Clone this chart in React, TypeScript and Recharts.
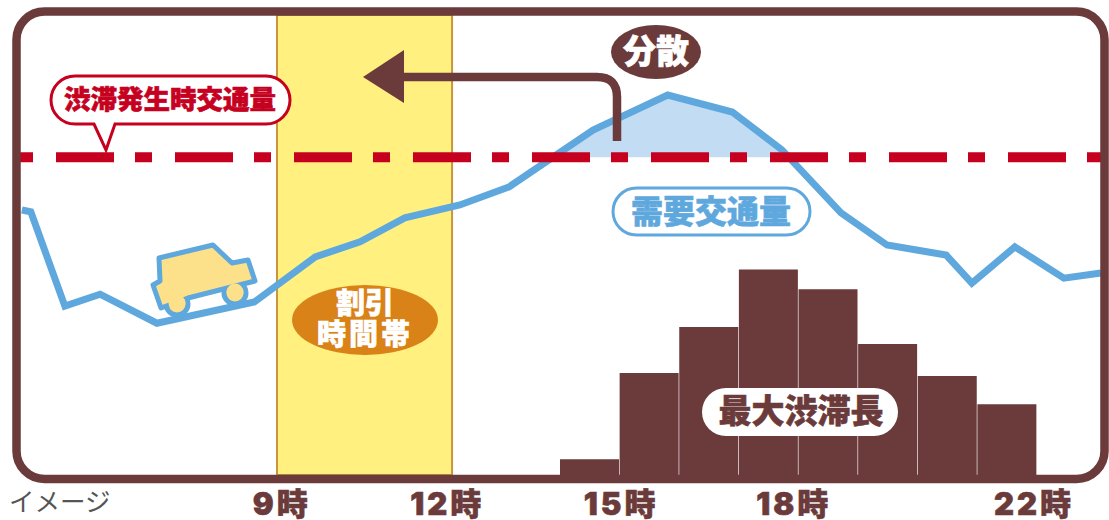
import React from "react";
import { Area, Bar, ComposedChart, Line, ReferenceArea, ReferenceLine, XAxis, YAxis } from "recharts";

// x values are hours of the day, y values are relative units (the original has no y scale)
const demandHours = [5.01, 5.16, 5.73, 6.32, 7.27, 8.9, 9.92, 10.67, 11.42, 12.34, 13.16, 14.57, 15.82, 16.9, 17.73, 18.72, 19.49, 20.48, 20.91, 21.63, 22.45, 23.07];
const demandValues = [57.6, 57.2, 36.7, 39.3, 33, 37.6, 47.4, 50.7, 55.9, 58.7, 62.6, 75, 82.6, 78.9, 70.7, 57, 50, 47.8, 41.7, 49.6, 42.8, 43.9];

const congestionLimit = 69.1;
const spillHours = [13.9, 14.57, 15.82, 16.9, 17.73, 17.85];
const spillValues = [69.1, 75, 82.6, 78.9, 70.7, 69.1];

const jamHours = [14.5, 15.5, 16.5, 17.5, 18.5, 19.5, 20.5, 21.5];
const jamLengths = [3.4, 22.2, 32.2, 44.7, 40.4, 28.5, 21.5, 15.4];

const tickHours = [9.36, 12.13, 15.04, 17.93, 21.95];
const tickLabels = ["9時", "12時", "15時", "18時", "22時"];

const discountStart = 9.28;
const discountEnd = 12.21;

const jamRows = jamHours.map((hour, i) => ({ hour, jam: jamLengths[i] }));
const demandRows = demandHours.map((hour, i) => ({ hour, demand: demandValues[i] }));
const spillRows = spillHours.map((hour, i) => ({ hour, spill: [congestionLimit, spillValues[i]] }));

const BROWN = "#6b3a3a";
const BLUE = "#5fa8de";
const RED = "#c6001f";
const JP = '"Noto Sans CJK JP", sans-serif';
const CAR = "#fce08a";

function Heavy({ fill, ...rest }: any) {
  return (
    <text
      fill={fill}
      stroke={fill}
      strokeWidth={0.6}
      fontFamily={JP}
      fontWeight={900}
      textAnchor="middle"
      dominantBaseline="central"
      {...rest}
    />
  );
}

function Callouts() {
  return (
    <svg width={1109} height={520} style={{ position: "absolute", left: 0, top: 0 }}>
      <rect x={16.5} y={11.5} width={1088} height={467.5} rx={28} fill="none" stroke={BROWN} strokeWidth={8.5} />

      {/* arrow */}
      <path d="M617 141 V97 Q617 77 597 77 H400" fill="none" stroke={BROWN} strokeWidth={8.5} />
      <polygon points="363,77 404,50 404,103" fill={BROWN} />

      {/* car */}
      <g stroke={BLUE} strokeWidth={5} strokeLinejoin="round" fill={CAR}>
        <circle cx={177} cy={304} r={11} />
        <circle cx={235} cy={293} r={11} />
        <polygon points="159,258 213,245 232,263 248,260 255,281 188,298 161,308 153,285 160,281" />
      </g>
      <g fill={CAR}>
        <circle cx={177} cy={303} r={8.5} />
        <circle cx={235} cy={292} r={8.5} />
      </g>

      {/* limit label */}
      <path
        d="M75 76 H266 A24 24 0 0 1 266 124 H115 L106 150 L94 124 H75 A24 24 0 0 1 75 76 Z"
        fill="#fff"
        stroke={RED}
        strokeWidth={3}
      />
      <Heavy x={170} y={97} fontSize={26.5} fill={RED}>渋滞発生時交通量</Heavy>

      <ellipse cx={656} cy={52} rx={45} ry={27} fill={BROWN} />
      <Heavy x={656} y={49} fontSize={33} fill="#fff">分散</Heavy>

      <rect x={613} y={188} width={197} height={47} rx={23.5} fill="#fff" stroke={BLUE} strokeWidth={3} />
      <Heavy x={711} y={209} fontSize={32} fill={BLUE}>需要交通量</Heavy>

      <ellipse cx={365} cy={320} rx={73} ry={35} fill="#d98218" />
      <Heavy fontSize={29} fill="#fff">
        <tspan x={365} y={301}>割引</tspan>
        <tspan x={365} y={332} letterSpacing={3}>時間帯</tspan>
      </Heavy>

      <rect x={702} y={388} width={196} height={48} rx={24} fill="#fff" />
      <Heavy x={801} y={409} fontSize={33} fill={BROWN}>最大渋滞長</Heavy>

      <text x={9} y={511} fontSize={25.5} fill="#555" fontFamily={JP}>イメージ</text>
    </svg>
  );
}

export default function App() {
  return (
    <div style={{ position: "absolute", left: 0, top: 0, width: 1109, height: 520, background: "#fff" }}>
      <ComposedChart width={1109} height={520} data={jamRows} margin={{ top: 15, right: 7, bottom: 0, left: 16 }}>
        <XAxis
          xAxisId="hours"
          dataKey="hour"
          type="number"
          domain={[4.912, 23.088]}
          ticks={tickHours}
          interval={0}
          tickFormatter={(v: number) => tickLabels[tickHours.indexOf(v)]}
          height={45}
          axisLine={false}
          tickLine={false}
          tickMargin={12}
          tick={{ fill: BROWN, stroke: BROWN, strokeWidth: 0.6, fontSize: 31, fontWeight: 900, letterSpacing: 3, fontFamily: 'Inter, "Noto Sans CJK JP", sans-serif' }}
        />
        {/* the bars sit on their own band axis, its padding keeps them in the 14-22h stretch */}
        <XAxis xAxisId="jam" dataKey="hour" type="category" hide padding={{ left: 544, right: 65 }} />
        <YAxis hide domain={[0, 100]} />
        <ReferenceArea
          xAxisId="hours"
          x1={discountStart}
          x2={discountEnd}
          fill="#fff07f"
          fillOpacity={1}
          stroke="#c8963c"
          strokeWidth={2}
        />
        <Area
          xAxisId="hours"
          data={spillRows}
          dataKey="spill"
          type="linear"
          fill="#c2dcf3"
          fillOpacity={1}
          stroke="none"
          dot={false}
          isAnimationActive={false}
        />
        <Bar xAxisId="jam" dataKey="jam" barSize={59} fill={BROWN} isAnimationActive={false} />
        <Line
          xAxisId="hours"
          data={demandRows}
          dataKey="demand"
          type="linear"
          stroke={BLUE}
          strokeWidth={7}
          dot={false}
          isAnimationActive={false}
        />
        <ReferenceLine xAxisId="hours" y={congestionLimit} stroke={RED} strokeWidth={10} strokeDasharray="17 23 58 21" />
      </ComposedChart>
      <Callouts />
    </div>
  );
}
